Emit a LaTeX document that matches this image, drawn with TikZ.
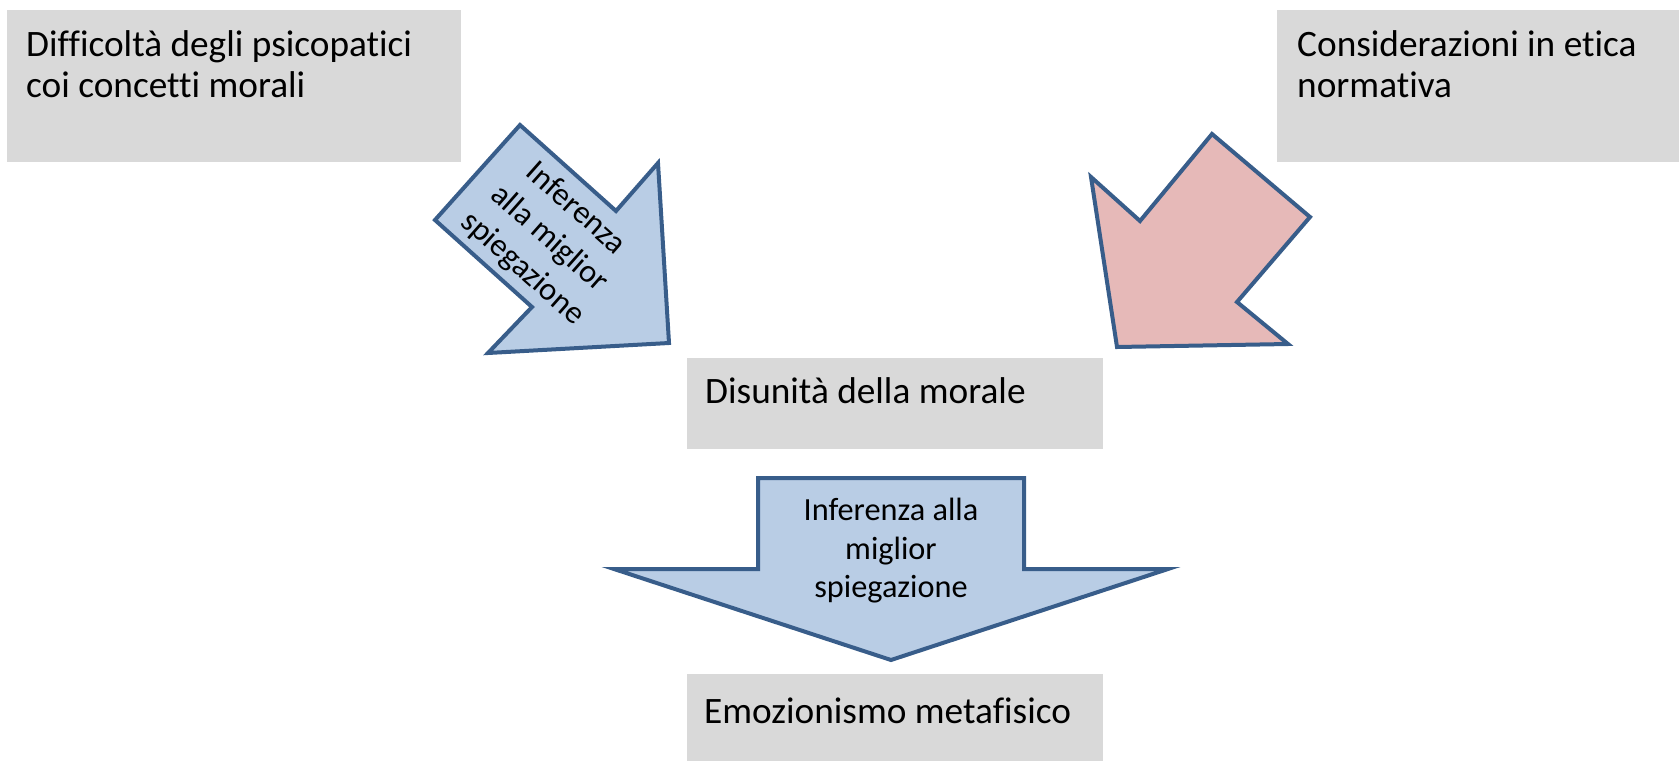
\documentclass[tikz,border=0pt]{standalone}
\usepackage{fontspec}
\setmainfont{Carlito}[Ligatures=NoCommon]
\definecolor{boxgray}{HTML}{D9D9D9}
\definecolor{arrowline}{HTML}{385D8A}
\definecolor{arrowblue}{HTML}{B9CDE5}
\definecolor{arrowpink}{HTML}{E6B9B8}
\tikzset{
  graybox/.style={fill=boxgray, draw=none, inner sep=0pt, anchor=north west},
  boxtext/.style={anchor=base west, inner sep=0pt, align=left, font=\fontsize{37.3}{41}\selectfont},
  arrowtext/.style={inner sep=0pt, align=center, font=\fontsize{32.3}{38.5}\selectfont},
  rottext/.style={inner sep=0pt, align=center, font=\fontsize{32.3}{40}\selectfont},
  bluearrow/.style={fill=arrowblue, draw=arrowline, line width=4pt, line join=miter},
  pinkarrow/.style={fill=arrowpink, draw=arrowline, line width=4pt, line join=miter}
}
\begin{document}
\begin{tikzpicture}[x=1pt, y=-1pt]
\useasboundingbox (0,0) rectangle (1679,761);
% boxes
\node[graybox, minimum width=454pt, minimum height=152pt] (b1) at (7,10) {};
\node[graybox, minimum width=402pt, minimum height=152pt] (b2) at (1277,10) {};
\node[graybox, minimum width=416pt, minimum height=91pt] (b3) at (687,358) {};
\node[graybox, minimum width=416pt, minimum height=87pt] (b4) at (687,674) {};
\node[boxtext] (t1) at (26,97) {Difficoltà degli psicopatici\\coi concetti morali};
\node[boxtext] (t2) at (1297,97) {Considerazioni in etica\\normativa};
\node[boxtext] (t3) at (705,403) {Disunità della morale};
\node[boxtext] (t4) at (704,723) {Emozionismo metafisico};
% left blue arrow
\draw[bluearrow] (520,125) -- (616,211) -- (658,163) -- (669,343) -- (488,353) -- (532,307) -- (435,220) -- cycle;
\node[rottext, rotate=-41.5] (a1) at (549,239) {Inferenza\\alla miglior\\spiegazione};
% right pink arrow
\draw[pinkarrow] (1212,134) -- (1310,217) -- (1237,302) -- (1288,344) -- (1117,347) -- (1091,177) -- (1140,221) -- cycle;
% bottom blue arrow
\draw[bluearrow] (758,478) -- (1024,478) -- (1024,569) -- (1168,569) -- (891,660) -- (614,569) -- (758,569) -- cycle;
\node[arrowtext] (a2) at (891,551) {Inferenza alla\\miglior\\spiegazione};
\end{tikzpicture}
\end{document}
